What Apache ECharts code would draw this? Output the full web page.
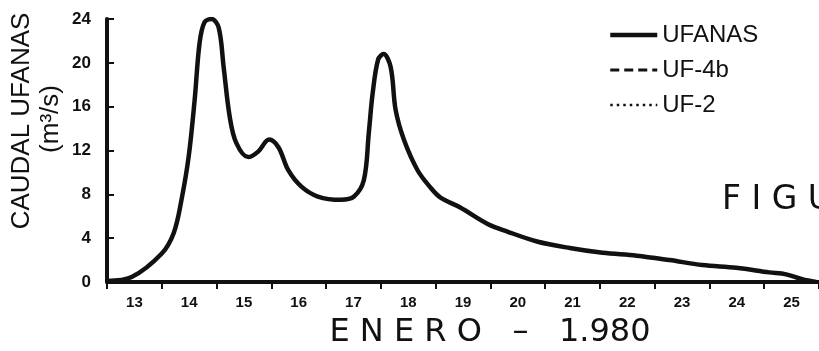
<!DOCTYPE html>
<html>
<head>
<meta charset="utf-8">
<script src="https://cdn.jsdelivr.net/npm/echarts@6/dist/echarts.min.js"></script>
<style>
html,body{margin:0;padding:0;background:#fff;}
#c{width:819px;height:351px;}
</style>
</head>
<body>
<div id="c"></div>
<script>
// Day of January 1980 (fractional) and flow (m3/s)
var days = [13.0, 13.45, 14.0, 14.22, 14.36, 14.49, 14.6, 14.69, 14.78, 14.91, 15.04, 15.13, 15.24, 15.36, 15.58, 15.76, 15.96, 16.13, 16.31, 16.55, 16.85, 17.27, 17.51, 17.69, 17.78, 17.85, 17.95, 18.05, 18.18, 18.27, 18.42, 18.67, 18.91, 19.09, 19.45, 19.95, 20.31, 20.85, 21.45, 22.05, 22.67, 23.27, 23.87, 24.49, 25.09, 25.4, 25.69, 25.95];
var ufanas = [0.1, 0.45, 2.6, 4.5, 7.5, 11.4, 16.6, 21.8, 23.7, 24.0, 23.2, 19.6, 15.1, 12.7, 11.4, 11.9, 13.0, 12.3, 10.2, 8.7, 7.8, 7.5, 7.8, 9.3, 13.6, 17.2, 20.3, 20.8, 19.6, 15.7, 13.0, 10.2, 8.6, 7.7, 6.8, 5.3, 4.6, 3.7, 3.1, 2.66, 2.4, 2.0, 1.55, 1.3, 0.88, 0.7, 0.25, 0];
var dayLabels = ['13','14','15','16','17','18','19','20','21','22','23','24','25'];
var seriesNames = ['UFANAS', 'UF-4b', 'UF-2'];
var yTicks = [0, 4, 8, 12, 16, 20, 24];

var ink = '#111';
var lineStyles = [
  {color: ink, width: 4.5, type: 'solid'},
  {color: ink, width: 3, type: [9, 5]},
  {color: ink, width: 2.5, type: [2.5, 4]}
];
var chart = echarts.init(document.getElementById('c'), null, {renderer: 'canvas'});
var ufData = days.map(function (d, i) { return [d, ufanas[i]]; });

chart.setOption({
  backgroundColor: '#fff',
  animation: false,
  grid: {left: 107, right: 0, top: 19, bottom: 69},
  legend: {
    orient: 'vertical',
    left: 603,
    top: 18,
    itemWidth: 47,
    itemHeight: 14,
    itemGap: 11,
    data: seriesNames.map(function (n, i) {
      return {name: n, lineStyle: lineStyles[i], itemStyle: {opacity: 0}};
    }),
    textStyle: {fontFamily: 'Liberation Sans', fontSize: 24, color: ink}
  },
  xAxis: [{
    type: 'value',
    min: 13, max: 26, interval: 1,
    axisLine: {lineStyle: {color: ink, width: 4}},
    axisTick: {show: true, inside: false, length: 7, lineStyle: {color: ink, width: 2}},
    axisLabel: {show: false},
    splitLine: {show: false}
  }, {
    type: 'category',
    position: 'bottom',
    data: dayLabels,
    boundaryGap: true,
    axisLine: {show: false},
    axisTick: {show: false},
    axisLabel: {margin: 13, fontFamily: 'Liberation Sans', fontWeight: 'bold', fontSize: 15, color: ink},
    splitLine: {show: false}
  }],
  yAxis: {
    type: 'value',
    min: yTicks[0], max: yTicks[yTicks.length - 1], interval: 4,
    axisLine: {show: true, lineStyle: {color: ink, width: 4}},
    axisTick: {show: true, inside: true, length: 7, lineStyle: {color: ink, width: 2}},
    axisLabel: {margin: 16, fontFamily: 'Liberation Sans', fontWeight: 'bold', fontSize: 17, color: ink},
    splitLine: {show: false}
  },
  graphic: [
    {type: 'text', rotation: Math.PI / 2, x: 22, y: 121,
     style: {text: 'CAUDAL UFANAS', font: '26px "Liberation Sans"', fill: ink, textAlign: 'center', textVerticalAlign: 'middle'}},
    {type: 'text', rotation: Math.PI / 2, x: 51, y: 119,
     style: {text: '(m³/s)', font: '26px "Liberation Sans"', fill: ink, textAlign: 'center', textVerticalAlign: 'middle'}},
    {type: 'text', x: 490, y: 333,
     style: {text: 'E N E R O   –   1.980', font: '32px "DejaVu Sans"', fill: ink, textAlign: 'center', textVerticalAlign: 'middle'}},
    {type: 'text', x: 722, y: 200,
     style: {text: 'F I G U', font: '33px "DejaVu Sans"', fill: ink, textAlign: 'left', textVerticalAlign: 'middle'}}
  ],
  series: [{
    name: seriesNames[0], type: 'line', xAxisIndex: 0,
    data: ufData, showSymbol: false, symbol: 'none',
    smooth: 0.35,
    lineStyle: lineStyles[0],
    itemStyle: {color: ink}
  }, {
    name: seriesNames[1], type: 'line', xAxisIndex: 0,
    data: [], symbol: 'none',
    lineStyle: lineStyles[1],
    itemStyle: {color: ink}
  }, {
    name: seriesNames[2], type: 'line', xAxisIndex: 0,
    data: [], symbol: 'none',
    lineStyle: lineStyles[2],
    itemStyle: {color: ink}
  }]
});
</script>
</body>
</html>
